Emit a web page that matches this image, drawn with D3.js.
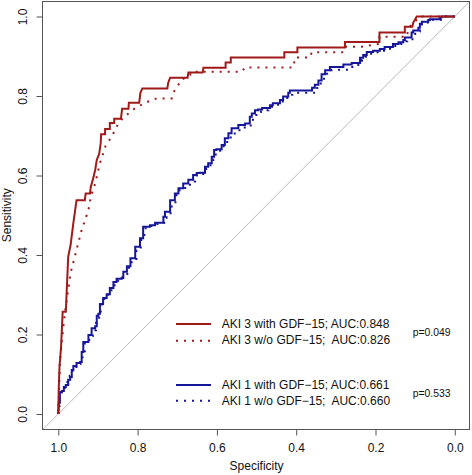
<!DOCTYPE html>
<html><head><meta charset="utf-8">
<script src="https://cdn.jsdelivr.net/npm/d3@7"></script>
<style>body{margin:0;background:#fff} svg{display:block} text{font-family:"Liberation Sans",Arial,Helvetica,sans-serif}</style>
</head><body>
<svg id="c" width="472" height="475"></svg>
<script>
// ---- data ----
const xTicks = [1.0, 0.8, 0.6, 0.4, 0.2, 0.0];
const yTicks = [0.0, 0.2, 0.4, 0.6, 0.8, 1.0];
const seriesNames = [
  "AKI 3 with GDF\u221215; AUC:0.848",
  "AKI 3 w/o GDF\u221215;  AUC:0.826",
  "AKI 1 with GDF\u221215; AUC:0.661",
  "AKI 1 w/o GDF\u221215;  AUC:0.660"
];
const pValues = ["p=0.049", "p=0.533"];
const xTitle = "Specificity";
const yTitle = "Sensitivity";

const aki3WithSpec = [1.000,0.999,0.997,0.993,0.989,0.981,0.979,0.975,0.969,0.962,0.954,0.933,0.931,0.920,0.918,0.913,0.907,0.903,0.897,0.893,0.892,0.882,0.882,0.870,0.870,0.859,0.859,0.842,0.839,0.823,0.822,0.796,0.793,0.788,0.725,0.723,0.718,0.674,0.672,0.636,0.634,0.578,0.578,0.565,0.565,0.430,0.430,0.397,0.397,0.277,0.277,0.190,0.190,0.126,0.126,0.107,0.105,0.096,0.000];
const aki3WithSens = [0.000,0.060,0.119,0.169,0.257,0.257,0.304,0.396,0.425,0.481,0.538,0.538,0.555,0.555,0.572,0.589,0.614,0.639,0.654,0.682,0.704,0.704,0.717,0.717,0.732,0.732,0.743,0.743,0.768,0.768,0.783,0.783,0.808,0.819,0.819,0.833,0.846,0.846,0.859,0.859,0.871,0.871,0.884,0.884,0.897,0.897,0.910,0.910,0.922,0.922,0.936,0.936,0.960,0.960,0.974,0.974,0.984,1.000,1.000];

const aki3WoSpec = [1.000,0.998,0.996,0.991,0.983,0.975,0.969,0.954,0.941,0.924,0.918,0.907,0.895,0.880,0.865,0.853,0.838,0.823,0.807,0.781,0.752,0.714,0.711,0.697,0.691,0.668,0.664,0.537,0.529,0.407,0.403,0.365,0.361,0.281,0.277,0.235,0.190,0.190,0.121,0.117,0.105,0.092,0.088,0.000];
const aki3WoSens = [0.000,0.060,0.128,0.186,0.257,0.312,0.355,0.413,0.463,0.513,0.547,0.580,0.631,0.677,0.698,0.723,0.744,0.756,0.769,0.783,0.794,0.794,0.807,0.828,0.840,0.853,0.861,0.861,0.872,0.872,0.897,0.897,0.910,0.910,0.924,0.924,0.931,0.949,0.949,0.970,0.983,0.996,1.000,1.000];

const aki1WithSpec = [1.000,0.999,0.996,0.991,0.986,0.981,0.975,0.970,0.966,0.962,0.954,0.945,0.941,0.937,0.924,0.916,0.907,0.903,0.899,0.895,0.887,0.878,0.870,0.861,0.853,0.840,0.836,0.827,0.818,0.806,0.794,0.786,0.769,0.756,0.735,0.731,0.718,0.706,0.697,0.685,0.672,0.660,0.651,0.643,0.630,0.622,0.613,0.607,0.601,0.588,0.580,0.571,0.563,0.546,0.529,0.517,0.512,0.504,0.496,0.486,0.466,0.459,0.441,0.433,0.420,0.416,0.403,0.360,0.353,0.344,0.336,0.327,0.315,0.310,0.281,0.260,0.259,0.239,0.231,0.222,0.206,0.189,0.177,0.156,0.142,0.130,0.126,0.109,0.105,0.092,0.088,0.083,0.067,0.063,0.037,0.033,0.000];
const aki1WithSens = [0.000,0.010,0.028,0.055,0.058,0.068,0.073,0.086,0.093,0.111,0.121,0.128,0.131,0.156,0.181,0.199,0.216,0.221,0.247,0.252,0.277,0.292,0.301,0.317,0.332,0.340,0.342,0.358,0.372,0.392,0.421,0.442,0.471,0.475,0.481,0.496,0.509,0.538,0.555,0.568,0.580,0.589,0.601,0.606,0.607,0.622,0.631,0.647,0.664,0.666,0.677,0.694,0.706,0.719,0.727,0.731,0.748,0.756,0.764,0.766,0.770,0.777,0.782,0.790,0.799,0.808,0.814,0.814,0.821,0.828,0.839,0.855,0.865,0.873,0.873,0.879,0.883,0.883,0.896,0.903,0.911,0.914,0.918,0.923,0.931,0.935,0.941,0.947,0.960,0.965,0.972,0.982,0.987,0.991,0.993,0.998,1.000];

const aki1WoSpec = [1.000,0.997,0.993,0.988,0.983,0.977,0.971,0.965,0.960,0.951,0.944,0.939,0.933,0.922,0.913,0.905,0.897,0.896,0.890,0.884,0.875,0.866,0.858,0.849,0.838,0.826,0.815,0.803,0.792,0.783,0.766,0.750,0.733,0.727,0.714,0.702,0.694,0.680,0.668,0.655,0.640,0.627,0.619,0.609,0.603,0.597,0.583,0.574,0.565,0.555,0.540,0.524,0.509,0.505,0.497,0.489,0.470,0.455,0.437,0.428,0.415,0.410,0.398,0.355,0.347,0.338,0.330,0.322,0.311,0.304,0.272,0.256,0.234,0.226,0.216,0.200,0.183,0.170,0.150,0.137,0.124,0.120,0.103,0.100,0.088,0.083,0.078,0.063,0.058,0.035,0.030,0.000];
const aki1WoSens = [0.000,0.020,0.043,0.055,0.063,0.070,0.083,0.096,0.108,0.118,0.126,0.138,0.158,0.178,0.196,0.211,0.229,0.244,0.258,0.280,0.290,0.300,0.316,0.330,0.338,0.352,0.368,0.387,0.412,0.438,0.467,0.473,0.478,0.494,0.505,0.533,0.551,0.563,0.577,0.585,0.600,0.604,0.617,0.626,0.641,0.657,0.662,0.674,0.690,0.700,0.714,0.721,0.726,0.745,0.752,0.760,0.764,0.773,0.778,0.786,0.795,0.803,0.808,0.808,0.817,0.825,0.836,0.851,0.860,0.866,0.866,0.873,0.878,0.891,0.899,0.906,0.910,0.914,0.919,0.926,0.931,0.938,0.943,0.956,0.962,0.970,0.980,0.985,0.990,0.992,0.997,1.000];

// ---- layout ----
const RED = "#A01A1A", BLUE = "#16169A";
const svg = d3.select("#c");
const box = {l: 42.5, r: 469.5, t: 1.5, b: 429.5};
const x = d3.scaleLinear().domain([1, 0]).range([58.3, 454.8]);
const y = d3.scaleLinear().domain([0, 1]).range([414, 16.5]);

svg.append("defs").append("clipPath").attr("id", "clip")
  .append("rect").attr("x", box.l).attr("y", box.t).attr("width", box.r - box.l).attr("height", box.b - box.t);

// diagonal reference line
svg.append("line").attr("clip-path", "url(#clip)")
  .attr("x1", x(1.06)).attr("y1", y(-0.06)).attr("x2", x(-0.06)).attr("y2", y(1.06))
  .attr("stroke", "#b8b8b8").attr("stroke-width", 1);

// axes
const yAxis = svg.append("g").attr("transform", `translate(${box.l},0)`)
  .call(d3.axisLeft(y).tickValues(yTicks).tickFormat(d3.format(".1f")).tickSize(6).tickSizeOuter(0));
yAxis.select(".domain").remove();
yAxis.selectAll("line").attr("stroke", "#555");
yAxis.selectAll("text").attr("transform", "rotate(-90)").attr("x", 0).attr("y", -15.5).attr("dy", 0)
  .attr("text-anchor", "middle").attr("font-size", 12).attr("fill", "#111")
  .attr("font-family", "'Liberation Sans',Arial,sans-serif");

const xAxis = svg.append("g").attr("transform", `translate(0,${box.b})`)
  .call(d3.axisBottom(x).tickValues(xTicks).tickFormat(d3.format(".1f")).tickSize(6).tickSizeOuter(0));
xAxis.select(".domain").remove();
xAxis.selectAll("line").attr("stroke", "#555");
xAxis.selectAll("text").attr("y", 22.5).attr("dy", 0).attr("font-size", 12).attr("fill", "#111")
  .attr("font-family", "'Liberation Sans',Arial,sans-serif");

// frame
svg.append("rect").attr("x", box.l).attr("y", box.t).attr("width", box.r - box.l).attr("height", box.b - box.t)
  .attr("fill", "none").attr("stroke", "#555").attr("stroke-width", 1);

// titles
svg.append("text").attr("x", x(0.5)).attr("y", 470).attr("text-anchor", "middle")
  .attr("font-size", 12).attr("fill", "#111").text(xTitle);
svg.append("text").attr("transform", `translate(10.5,${y(0.5)}) rotate(-90)`).attr("text-anchor", "middle")
  .attr("font-size", 12).attr("fill", "#111").text(yTitle);

// curves
const stepLine = d3.line().x(d => x(d[0])).y(d => y(d[1])).curve(d3.curveStepBefore);
const straightLine = d3.line().x(d => x(d[0])).y(d => y(d[1])).curve(d3.curveLinear);
const curves = [
  {spec: aki1WoSpec, sens: aki1WoSens, color: BLUE, dash: "2,6", gen: stepLine},
  {spec: aki1WithSpec, sens: aki1WithSens, color: BLUE, dash: null, gen: stepLine},
  {spec: aki3WoSpec, sens: aki3WoSens, color: RED, dash: "2,6", gen: straightLine},
  {spec: aki3WithSpec, sens: aki3WithSens, color: RED, dash: null, gen: straightLine}
];
curves.forEach(c => {
  const pts = c.spec.map((s, i) => [s, c.sens[i]]);
  svg.append("path").datum(pts).attr("d", c.gen).attr("fill", "none")
    .attr("stroke", c.color).attr("stroke-width", 2)
    .attr("stroke-dasharray", c.dash).attr("stroke-linejoin", "miter");
});

// legend
const legendRows = [
  {name: seriesNames[0], color: RED, dash: null, ly: 324, ty: 328.3},
  {name: seriesNames[1], color: RED, dash: "2,6", ly: 340.7, ty: 344.3},
  {name: seriesNames[2], color: BLUE, dash: null, ly: 385, ty: 389.3},
  {name: seriesNames[3], color: BLUE, dash: "2,6", ly: 400.7, ty: 405}
];
legendRows.forEach(r => {
  svg.append("line").attr("x1", 176).attr("x2", 211).attr("y1", r.ly).attr("y2", r.ly)
    .attr("stroke", r.color).attr("stroke-width", 2).attr("stroke-dasharray", r.dash);
  svg.append("text").attr("x", 221.7).attr("y", r.ty).attr("font-size", 12).attr("fill", "#111")
    .style("white-space", "pre").text(r.name);
});
svg.append("text").attr("x", 412.7).attr("y", 335.5).attr("font-size", 10.4).attr("fill", "#111").text(pValues[0]);
svg.append("text").attr("x", 412.7).attr("y", 397).attr("font-size", 10.4).attr("fill", "#111").text(pValues[1]);
</script>
</body></html>
